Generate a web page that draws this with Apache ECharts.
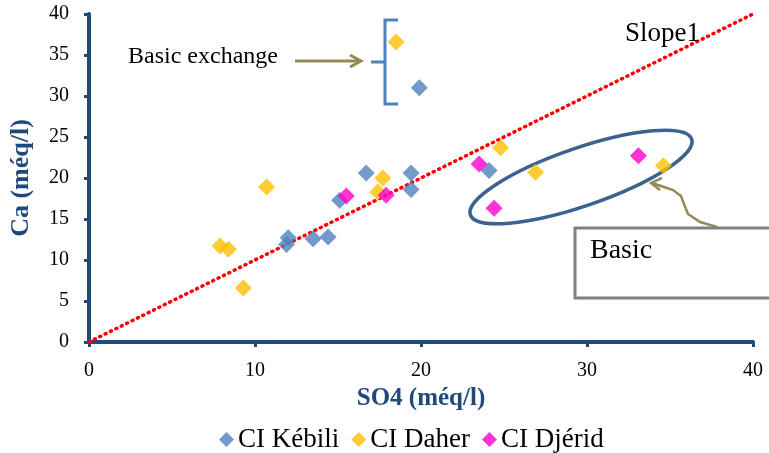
<!DOCTYPE html>
<html>
<head>
<meta charset="utf-8">
<script src="https://cdn.jsdelivr.net/npm/echarts@6/dist/echarts.min.js"></script>
<style>
  html, body { margin: 0; padding: 0; background: #fff; }
  #chart { width: 769px; height: 453px; }
</style>
</head>
<body>
<div id="chart"></div>
<script>
// SO4 vs Ca (méq/l) for the three aquifer groups
const kebili = [
  [19.9, 31.0], [16.7, 20.6], [19.4, 20.6], [19.4, 18.6], [15.1, 17.3],
  [24.1, 20.9], [12.0, 12.7], [11.9, 11.9], [13.5, 12.6], [14.4, 12.8]
];
const daher = [
  [18.5, 36.6], [10.7, 18.9], [7.9, 11.7], [8.4, 11.3], [9.3, 6.6],
  [17.7, 20.0], [17.4, 18.3], [24.8, 23.7], [26.9, 20.7], [34.6, 21.5]
];
const djerid = [
  [15.5, 17.8], [17.9, 17.9], [23.5, 21.7], [33.1, 22.7], [24.4, 16.3]
];
const slopeLine = [[0, 0], [40, 40]];
const seriesNames = ['CI Kébili', 'CI Daher', 'CI Djérid'];

const SERIF = '"Liberation Serif", "Times New Roman", serif';
const AXIS_BLUE = '#1f497d';

const chart = echarts.init(document.getElementById('chart'), null, { renderer: 'canvas' });

function scatter(name, data, color) {
  return {
    name, type: 'scatter', data,
    symbol: 'diamond', symbolSize: 17,
    itemStyle: { color },
    z: 3
  };
}

function label(text, x, y, size) {
  return {
    type: 'text', x, y,
    style: { text, font: size + 'px ' + SERIF, fill: '#000', align: 'left', verticalAlign: 'middle' },
    z: 10
  };
}

chart.setOption({
  animation: false,
  backgroundColor: '#fff',
  grid: { left: 89, right: 16, top: 14, bottom: 111 },
  xAxis: {
    type: 'value', min: 0, max: 40, interval: 10,
    name: 'SO4 (méq/l)', nameLocation: 'middle', nameGap: 44,
    nameTextStyle: { fontFamily: SERIF, fontWeight: 'bold', fontSize: 25, color: AXIS_BLUE },
    axisLine: { show: true, onZero: false, lineStyle: { color: AXIS_BLUE, width: 4 } },
    axisTick: { show: true, length: 5, lineStyle: { color: AXIS_BLUE, width: 3 } },
    axisLabel: { fontFamily: SERIF, fontSize: 20, color: '#000', margin: 19 },
    splitLine: { show: false }
  },
  yAxis: {
    type: 'value', min: 0, max: 40, interval: 5,
    name: 'Ca (méq/l)', nameLocation: 'middle', nameGap: 55, nameRotate: 90,
    nameTextStyle: { fontFamily: SERIF, fontWeight: 'bold', fontSize: 26, color: AXIS_BLUE },
    axisLine: { show: true, onZero: false, lineStyle: { color: AXIS_BLUE, width: 4 } },
    axisTick: { show: true, length: 5, lineStyle: { color: AXIS_BLUE, width: 3 } },
    axisLabel: { fontFamily: SERIF, fontSize: 20, color: '#000', margin: 20 },
    splitLine: { show: false }
  },
  legend: {
    data: seriesNames,
    top: 421, left: 214,
    icon: 'diamond', itemWidth: 15, itemHeight: 15, itemGap: 12,
    textStyle: { fontFamily: SERIF, fontSize: 27, color: '#000', padding: [0, 0, 0, -1] }
  },
  series: [
    {
      name: 'Slope 1', type: 'line', data: slopeLine,
      symbol: 'none', silent: true, z: 2,
      lineStyle: { color: '#ff0000', width: 3.5, type: [1, 5], cap: 'round' }
    },
    scatter(seriesNames[0], kebili, '#4f81bd'),
    scatter(seriesNames[1], daher, '#ffc000'),
    scatter(seriesNames[2], djerid, '#ff00cc')
  ],
  graphic: [
    // "Basic exchange" callout with arrow and bracket
    label('Basic exchange', 128, 57, 24),
    { type: 'line', shape: { x1: 295, y1: 61, x2: 360, y2: 61 },
      style: { stroke: '#948a54', lineWidth: 3 } },
    { type: 'polyline', shape: { points: [[350, 55], [361, 61], [350, 67]] },
      style: { stroke: '#948a54', lineWidth: 3, fill: null } },
    { type: 'polyline', shape: { points: [[398, 20], [385, 20], [385, 104], [398, 104]] },
      style: { stroke: '#4f81bd', lineWidth: 3, fill: null } },
    { type: 'line', shape: { x1: 371, y1: 62, x2: 385, y2: 62 },
      style: { stroke: '#4f81bd', lineWidth: 3 } },
    // slope label
    label('Slope1', 625, 34, 27),
    // ellipse around the "Basic" group
    { type: 'ellipse', shape: { cx: 0, cy: 0, rx: 117, ry: 29 },
      x: 581, y: 177, rotation: 0.33,
      style: { stroke: '#3b6291', lineWidth: 3.5, fill: null }, z: 1 },
    // wavy arrow from the box to the ellipse
    { type: 'polyline',
      shape: { points: [[717, 227], [700, 222], [688, 214], [684, 204], [681, 196], [673, 190], [664, 187], [652, 183]] },
      style: { stroke: '#948a54', lineWidth: 2.5, fill: null } },
    { type: 'polyline', shape: { points: [[662, 178], [651, 183], [660, 190]] },
      style: { stroke: '#948a54', lineWidth: 2.5, fill: null } },
    // "Basic" box
    { type: 'rect', shape: { x: 575, y: 228, width: 200, height: 70 },
      style: { stroke: '#808080', lineWidth: 3, fill: '#fff' } },
    label('Basic', 590, 251, 28)
  ]
});
</script>
</body>
</html>
